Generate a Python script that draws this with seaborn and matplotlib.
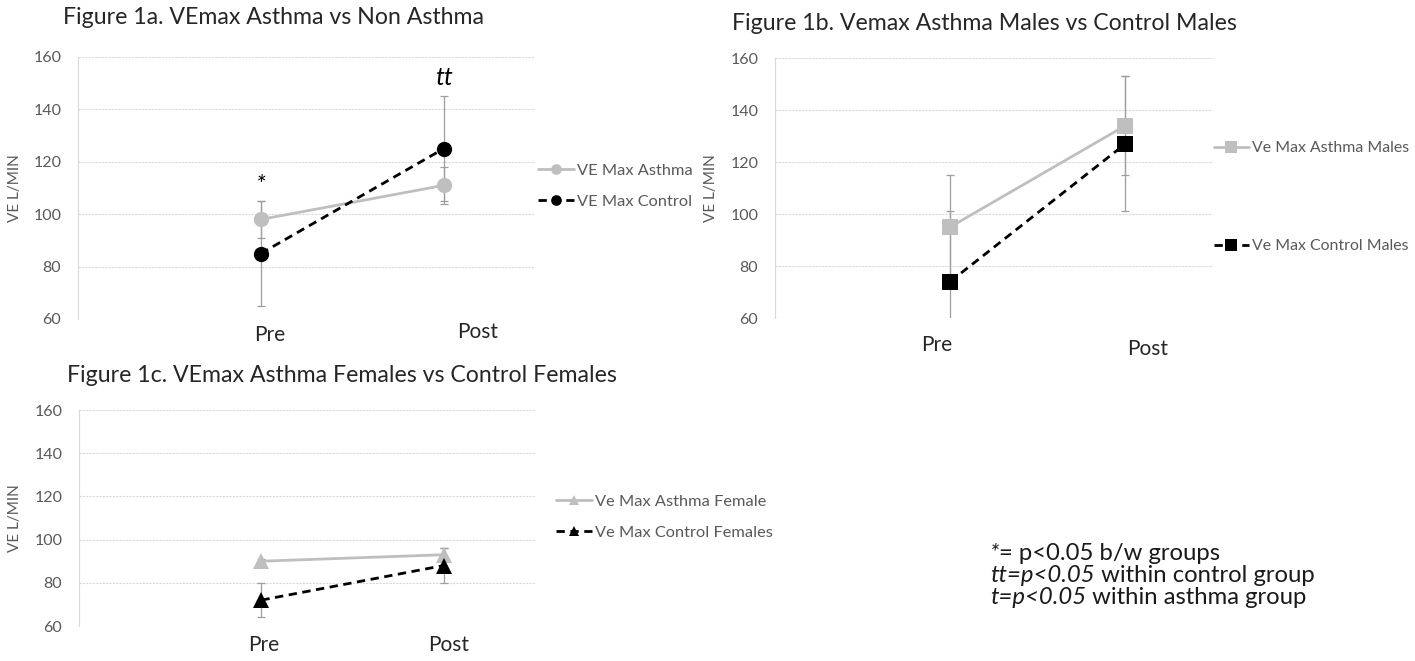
import matplotlib
matplotlib.use("Agg")
import matplotlib.pyplot as plt
import matplotlib.transforms as mtransforms
from matplotlib.lines import Line2D
import seaborn as sns
import pandas as pd

# ---------------- data ----------------
phases = ["Pre", "Post"]

a_labels = ["VE Max Asthma", "VE Max Control"]
a_asthma = [98, 111]
a_asthma_err = [7, 7]
a_control = [85, 125]
a_control_err = [20, 20]

b_labels = ["Ve Max Asthma Males", "Ve Max Control Males"]
b_asthma = [95, 134]
b_asthma_err = [20, 19]
b_control = [74, 127]
b_control_err = [27, 26]

c_labels = ["Ve Max Asthma Female", "Ve Max Control Females"]
c_asthma = [90, 93]
c_asthma_err = [1, 3]
c_control = [72, 88]
c_control_err = [8, 8]

titles = ["Figure 1a. VEmax Asthma vs Non Asthma",
          "Figure 1b. Vemax Asthma Males vs Control Males",
          "Figure 1c. VEmax Asthma Females vs Control Females"]
y_ticks = [60, 80, 100, 120, 140, 160]
y_label = "VE L/MIN"
notes = [("*", "= p<0.05 b/w groups"),
         ("tt=p<0.05", " within control group"),
         ("t=p<0.05", " within asthma group")]

# ---------------- style ----------------
sns.set_theme(style="white")
FONT = ["Lato", "DejaVu Sans"]
plt.rcParams["font.family"] = FONT

W, H = 1415, 661
fig = plt.figure(figsize=(W / 100, H / 100), dpi=100)
fig.patch.set_facecolor("white")

GRAY = "#BFBFBF"
ERR = "#9E9E9E"
TXT = "#595959"
DARK = "#262626"


def px_axes(x0, x1, y0, y1):
    return fig.add_axes([x0 / W, 1 - y1 / H, (x1 - x0) / W, (y1 - y0) / H])


def panel(ax, asthma, asthma_err, control, control_err, labels, marker, ms,
          legend_anchor, legend_fs, labelspacing, xlabel_pos, ylabel_px):
    df = pd.DataFrame({
        "x": list(range(len(phases))) * 2,
        "value": asthma + control,
        "series": [labels[0]] * len(phases) + [labels[1]] * len(phases),
    })
    pal = {labels[0]: GRAY, labels[1]: "black"}
    ax.errorbar(range(len(phases)), asthma, yerr=asthma_err, fmt="none",
                ecolor=ERR, elinewidth=0.9, capsize=3, capthick=0.9, zorder=2)
    ax.errorbar(range(len(phases)), control, yerr=control_err, fmt="none",
                ecolor=ERR, elinewidth=0.9, capsize=3, capthick=0.9, zorder=2)
    sns.lineplot(data=df, x="x", y="value", hue="series", style="series",
                 palette=pal, dashes={labels[0]: "", labels[1]: (3, 2)},
                 markers={labels[0]: marker, labels[1]: marker},
                 markersize=ms, markeredgewidth=0, linewidth=2.0,
                 legend=False, ax=ax, zorder=3)
    ax.set_ylim(60, 160)
    ax.set_yticks(y_ticks)
    ax.set_yticklabels([str(t) for t in y_ticks], fontsize=11.5, color=TXT)
    ax.set_xlim(-1.0, 1.5)
    ax.set_xticks([])
    ax.set_xlabel("")
    ax.set_ylabel(y_label, fontsize=11, color=TXT)
    blend = mtransforms.blended_transform_factory(fig.transFigure, ax.transAxes)
    ax.yaxis.set_label_coords(ylabel_px / W, 0.5, transform=blend)
    ax.tick_params(axis="y", length=0, pad=12)
    ax.grid(axis="y", color="#D9D9D9", linestyle=(0, (2, 1)), linewidth=0.8)
    for s in ["top", "right", "bottom"]:
        ax.spines[s].set_visible(False)
    ax.spines["left"].set_color("#D9D9D9")
    ax.spines["left"].set_linewidth(0.8)
    for lab, (fx, fy) in zip(phases, xlabel_pos):
        fig.text(fx / W, 1 - fy / H, lab, fontsize=15, color=DARK,
                 ha="center", va="center")
    handles = [Line2D([], [], color=GRAY, lw=2.0, marker=marker, markersize=ms * 0.7,
                      markeredgewidth=0),
               Line2D([], [], color="black", lw=2.0, ls=(0, (3, 2)), marker=marker,
                      markersize=ms * 0.7, markeredgewidth=0)]
    ax.legend(handles, labels, loc="center left",
              bbox_to_anchor=(legend_anchor[0] / W, 1 - legend_anchor[1] / H),
              bbox_transform=fig.transFigure, frameon=False, fontsize=legend_fs,
              labelcolor=TXT, handlelength=2.2, handletextpad=0.2,
              labelspacing=labelspacing, borderpad=0, borderaxespad=0)


# Panel 1a
ax1 = px_axes(78, 535, 57, 319)
panel(ax1, a_asthma, a_asthma_err, a_control, a_control_err, a_labels, "o", 11,
      (538, 186), 11.8, 1.0, [(270, 335), (478, 332)], 22)
fig.text(63 / W, 1 - 18 / H, titles[0], fontsize=16.7, color=DARK, va="center")
ax1.text(0, a_asthma[0] + a_asthma_err[0] + 6, "*", fontsize=18, style="italic",
         ha="center", va="center", color="black")
ax1.text(1, a_control[1] + a_control_err[1] + 7, "tt", fontsize=18, style="italic",
         ha="center", va="center", color="black")

# Panel 1b
ax2 = px_axes(775, 1213, 58, 318)
panel(ax2, b_asthma, b_asthma_err, b_control, b_control_err, b_labels, "s", 12,
      (1214, 197), 11.4, 5.3, [(937, 345), (1148, 349)], 718)
fig.text(732 / W, 1 - 24 / H, titles[1], fontsize=16.7, color=DARK, va="center")

# Panel 1c
ax3 = px_axes(79, 535, 410, 626)
panel(ax3, c_asthma, c_asthma_err, c_control, c_control_err, c_labels, "^", 11,
      (556, 517), 11.8, 1.0, [(264, 645), (449, 645)], 22)
fig.text(67 / W, 1 - 375 / H, titles[2], fontsize=16.7, color=DARK, va="center")

# Notes
ys = [553, 576, 598]
for (it, rest), y in zip(notes, ys):
    t = fig.text(990 / W, 1 - y / H, it, fontsize=17.2, style="italic",
                 color="#1a1a1a", va="center")
    fig.add_artist(plt.Annotation(rest, xy=(1, 0.5), xycoords=t,
                                  va="center", ha="left", fontsize=17.2,
                                  color="#1a1a1a"))

fig.savefig("out.png", dpi=100, facecolor="white")
